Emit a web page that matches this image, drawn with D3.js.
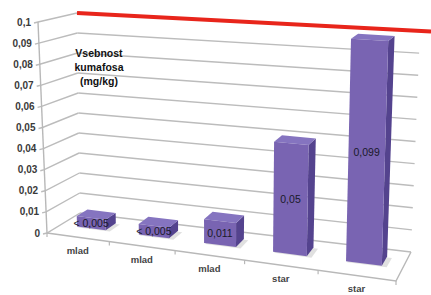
<!DOCTYPE html>
<html><head><meta charset="utf-8">
<script src="https://cdn.jsdelivr.net/npm/d3@7/dist/d3.min.js"></script>
<style>body{margin:0;background:#fff}svg{display:block}</style>
</head><body>
<svg id="c" width="431" height="295"></svg>
<script>
// ---- data ----
const categories = ["mlad","mlad","mlad","star","star"];
const values = [0.005, 0.005, 0.011, 0.05, 0.099];
const valueLabels = ["< 0,005","< 0,005","0,011","0,05","0,099"];
const yTicks = [0,0.01,0.02,0.03,0.04,0.05,0.06,0.07,0.08,0.09,0.1];
const yTickLabels = ["0","0,01","0,02","0,03","0,04","0,05","0,06","0,07","0,08","0,09","0,1"];
const limitValue = 0.1;
const titleLines = ["Vsebnost","kumafosa","(mg/kg)"];

// ---- projection (pseudo-perspective box) ----
const corners = {
  F00:[47,233], F01:[38,22], F10:[396,281], F11:[402,47],
  B00:[80,213], B01:[77,13], B10:[411,252], B11:[420,31]
};
const persp = 0.87;
const warp = x => persp*x/(1+(persp-1)*x);
const yS = d3.scaleLinear().domain([0,0.1]).range([0,1]);
const xS = d3.scaleBand().domain(d3.range(categories.length)).range([0,1])
  .paddingInner(0.53).paddingOuter(0.265);
function lerp(a,b,t){return [a[0]+(b[0]-a[0])*t, a[1]+(b[1]-a[1])*t];}
function P(x, v, z){
  const t = warp(x), u = yS(v), c = corners;
  const f0 = lerp(c.F00,c.F10,t), f1 = lerp(c.F01,c.F11,t);
  const b0 = lerp(c.B00,c.B10,t), b1 = lerp(c.B01,c.B11,t);
  const f = lerp(f0,f1,u), b = lerp(b0,b1,u);
  return lerp(f,b,z);
}
const svg = d3.select("#c");
const line = d3.line();
const grid = "#bcbcbc";

// back wall gridlines
yTicks.forEach(v=>{
  if (v===limitValue) return;
  svg.append("path").attr("d", line([P(0,v,1),P(1,v,1)]))
    .attr("stroke",grid).attr("stroke-width",1.4).attr("fill","none");
});
// left wall gridlines + ticks
yTicks.forEach(v=>{
  const a=P(0,v,0), tk=[a[0]-4,a[1]+1];
  svg.append("path").attr("d", line([tk,a,P(0,v,1)]))
    .attr("stroke",grid).attr("stroke-width",1.4).attr("fill","none");
});
// left axis
svg.append("path").attr("d", line([P(0,0,0),P(0,0.1,0)]))
  .attr("stroke","#b8b8b8").attr("stroke-width",1.4).attr("fill","none");
// floor
svg.append("path").attr("d", line([P(0,0,0),P(1,0,0),P(1,0,1)]))
  .attr("stroke","#b8b8b8").attr("stroke-width",1.4).attr("fill","none");
// category ticks
d3.range(categories.length+1).forEach(i=>{
  const a=P(i/categories.length,0,0);
  svg.append("path").attr("d", line([a,[a[0],a[1]+4]]))
    .attr("stroke","#b8b8b8").attr("stroke-width",1.2);
});
// red limit line
const r0=P(0,limitValue,1), r1=P(1,limitValue,1);
const slope=(r1[1]-r0[1])/(r1[0]-r0[0]);
svg.append("path").attr("d", line([r0,[431,r0[1]+slope*(431-r0[0])]]))
  .attr("stroke","#e8251b").attr("stroke-width",4).attr("fill","none");

// y tick labels
yTicks.forEach((v,i)=>{
  const a=P(0,v,0);
  svg.append("text").attr("x",a[0]-7).attr("y",a[1]+3.5)
    .attr("text-anchor","end").attr("font-family","Liberation Sans, Arial, sans-serif")
    .attr("font-size",10).attr("font-weight","bold").attr("fill","#3a3a3a")
    .text(yTickLabels[i]);
});
// title
titleLines.forEach((s,i)=>{
  svg.append("text").attr("x",99).attr("y",57+i*14).attr("text-anchor","middle")
    .attr("font-family","Liberation Sans, Arial, sans-serif").attr("font-size",10.5)
    .attr("font-weight","bold").attr("fill","#111").text(s);
});

// bars
const z0=0.43, z1=0.76;
const poly = pts => "M"+pts.map(p=>p.join(",")).join("L")+"Z";
values.forEach((v,i)=>{
  const x0=xS(i), x1=xS(i)+xS.bandwidth();
  const g=svg.append("g");
  // shadow
  g.append("path").attr("d",poly([P(x0,0,z0),P(x1+0.01,0,z0),P(x1+0.01,0,z1),P(x0,0,z1)]))
    .attr("fill","#000").attr("opacity",0.12).attr("transform","translate(1,1)");
  g.append("path").attr("d",poly([P(x1,0,z0),P(x1,0,z1),P(x1,v,z1),P(x1,v,z0)]))
    .attr("fill","#54438e");
  g.append("path").attr("d",poly([P(x0,v,z0),P(x1,v,z0),P(x1,v,z1),P(x0,v,z1)]))
    .attr("fill","#8574c0");
  g.append("path").attr("d",poly([P(x0,0,z0),P(x1,0,z0),P(x1,v,z0),P(x0,v,z0)]))
    .attr("fill","#7964b2");
  const c=P((x0+x1)/2, v/2, z0);
  g.append("text").attr("x",c[0]).attr("y",c[1]+4).attr("text-anchor","middle")
    .attr("font-family","Liberation Sans, Arial, sans-serif").attr("font-size",10.5)
    .attr("fill","#1a1a2a").text(valueLabels[i]);
});
// category labels
categories.forEach((s,i)=>{
  const a=P(xS(i)+xS.bandwidth()/2,0,0);
  svg.append("text").attr("x",a[0]).attr("y",a[1]+16.5).attr("text-anchor","middle")
    .attr("font-family","Liberation Sans, Arial, sans-serif").attr("font-size",9.5)
    .attr("font-weight","bold").attr("fill","#444").text(s);
});
</script>
</body></html>
